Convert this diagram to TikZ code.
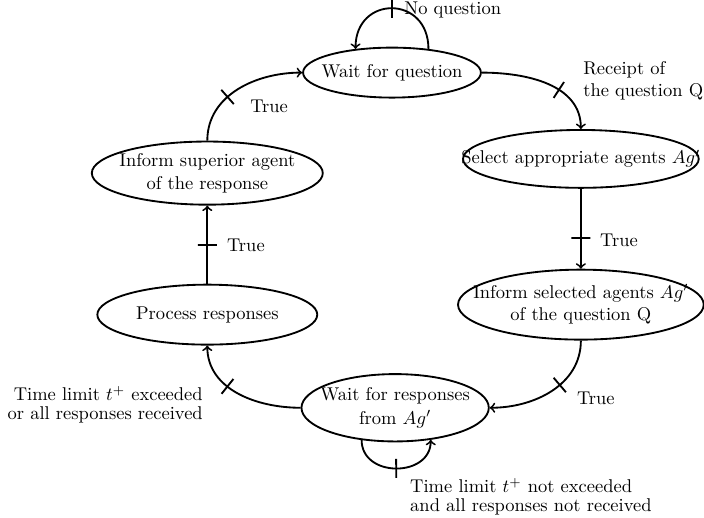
\documentclass[tikz,border=0pt]{standalone}
\usetikzlibrary{positioning,shapes,arrows}

\newcommand{\stext}[1]{\makebox[0pt]{\shortstack{#1}}}

\begin{document}
\begin{tikzpicture}
[state/.style={draw, shape=ellipse, line width=1pt, inner sep=0pt},
 trans/.style={->, line width=1pt},
 tick/.style={draw, sloped, line width=1pt, inner sep=0pt, minimum width=0pt, minimum height=3.6mm},
 lbl/.style={inner sep=0pt}]
\useasboundingbox (0,0) rectangle (13.38,9.84);
% states
\node[state,minimum width=3.38cm,minimum height=0.95cm] (wait) at (7.45,8.46) {\stext{Wait for question}};
\node[state,minimum width=4.48cm,minimum height=1.10cm] (select) at (11.04,6.82) {\stext{Select appropriate agents $Ag'$}};
\node[state,minimum width=4.67cm,minimum height=1.33cm] (inform) at (11.04,4.05) {\stext{Inform selected agents $Ag'$\\of the question Q}};
\node[state,minimum width=3.56cm,minimum height=1.28cm] (collect) at (7.51,2.09) {\stext{Wait for responses\\from $Ag'$}};
\node[state,minimum width=4.18cm,minimum height=1.14cm] (process) at (3.94,3.86) {\stext{Process responses}};
\node[state,minimum width=4.39cm,minimum height=1.20cm] (report) at (3.94,6.55) {\stext{Inform superior agent\\of the response}};
% transitions
\draw[trans] (wait.33) to[out=90,in=90,looseness=1.9] node[tick] (t1) {} (wait.147);
\draw[trans] (wait.east) to[out=0,in=90] node[tick,pos=.6] (t2) {} (select.north);
\draw[trans] (select) -- node[tick,pos=.62] (t3) {} (inform);
\draw[trans] (inform.south) to[out=-90,in=0] node[tick,pos=.42] (t4) {} (collect.east);
\draw[trans] (collect.224) to[out=-90,in=-90,looseness=1.4] node[tick] (t5) {} (collect.318);
\draw[trans] (collect.west) to[out=180,in=-90] node[tick,pos=.6] (t6) {} (process.south);
\draw[trans] (process) -- node[tick] (t7) {} (report);
\draw[trans] (report.north) to[out=90,in=180] node[tick,pos=.4] (t8) {} (wait.west);
% conditions
\node[lbl,anchor=west] (l1) at (7.68,9.65) {No question};
\node[lbl,anchor=west] (l2) at (11.08,8.30) {\shortstack[l]{Receipt of\\the question Q}};
\node[lbl,anchor=west] (l3) at (11.40,5.28) {True};
\node[lbl,anchor=west] (l4) at (10.96,2.26) {True};
\node[lbl,anchor=west] (l5) at (7.79,0.40) {\shortstack[l]{Time limit $t^+$ not exceeded\\and all responses not received}};
\node[lbl,anchor=east] (l6) at (3.86,2.15) {\shortstack[r]{Time limit $t^+$ exceeded\\or all responses received}};
\node[lbl,anchor=west] (l7) at (4.31,5.17) {True};
\node[lbl,anchor=west] (l8) at (4.75,7.81) {True};
\end{tikzpicture}
\end{document}
